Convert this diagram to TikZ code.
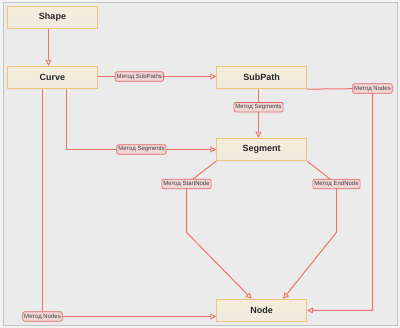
\documentclass[tikz,border=0pt]{standalone}
\usepackage{fontspec}
\setmainfont{Liberation Sans}
\usetikzlibrary{arrows.meta,calc}
\definecolor{outerbg}{HTML}{F2F2F2}
\definecolor{bg}{HTML}{EBEBEB}
\definecolor{framec}{HTML}{C4C4C4}
\definecolor{lineC}{HTML}{F07268}
\definecolor{boxB}{HTML}{F0C47A}
\definecolor{boxT}{HTML}{F6EDDC}
\definecolor{boxBot}{HTML}{EFE9E0}
\definecolor{lblF}{HTML}{F1D6D6}
\definecolor{lblD}{HTML}{E06666}
\begin{document}
\begin{tikzpicture}[x=1pt,y=-1pt,
 cls/.style={draw=boxB, line width=0.8pt, top color=boxT, bottom color=boxBot, minimum width=90pt, minimum height=22.5pt, inner sep=0pt, font=\fontsize{9}{10}\selectfont\bfseries, text=black!85},
 lbl/.style={draw=lblD, fill=lblF, rounded corners=2pt, line width=0.7pt, inner xsep=1.5pt, inner ysep=1pt, font=\fontsize{6}{6.5}\selectfont, text=black!75, minimum height=9.5pt},
 conn/.style={draw=lineC, line width=1pt},
 arr/.style={conn, -{Triangle[open, length=6pt, width=6pt, line width=0.9pt]}},
]
\useasboundingbox (0,0) rectangle (400,328);
\fill[outerbg] (0,0) rectangle (400,328);
\filldraw[fill=bg, draw=framec, line width=0.8pt] (3,2.5) rectangle (397,325.5);

\node[cls] (shape) at (52.5,17.5) {Shape};
\node[cls] (curve) at (52.5,77.5) {Curve};
\node[cls] (subpath) at (261.7,77.5) {SubPath};
\node[cls] (segment) at (261.7,149.5) {Segment};
\node[cls] (node) at (261.7,310.5) {Node};

\coordinate (c1) at (372.5,88.5);
\coordinate (s1) at (186.5,184);
\coordinate (s2) at (186.5,232.3);
\coordinate (e1) at (336.5,184);
\coordinate (e2) at (336.5,232.3);
\coordinate (n1) at (42.5,316.5);
\coordinate (k1) at ($(curve.south)+(14,0)$);
\coordinate (k2) at ($(curve.south)+(-10,0)$);

\draw[arr] ($(shape.south)+(-4,0)$) -- ($(curve.north)+(-4,0)$);
\draw[arr] ($(curve.east)+(0,-1)$) -- node[lbl, pos=0.35] {Метод SubPaths} ($(subpath.west)+(0,-1)$);
\draw[arr] (k1) |- node[lbl, pos=0.75] {Метод Segments} (segment.west);
\draw[arr] (k2) -- (n1) -- ($(node.west)+(0,6)$);
\node[lbl] at (n1) {Метод Nodes};
\draw[arr] ($(subpath.south)+(-3.2,0)$) -- node[lbl, pos=0.37] {Метод Segments} ($(segment.north)+(-3.2,0)$);
\draw[arr] (subpath.south east) -- (c1) |- (node.east);
\node[lbl] at (c1) {Метод Nodes};
\draw[arr] (segment.south west) -- (s1) -- (s2) -- ($(node.north)+(-10,0)$);
\node[lbl] at (s1) {Метод StartNode};
\draw[arr] (segment.south east) -- (e1) -- (e2) -- ($(node.north)+(21.3,0)$);
\node[lbl] at (e1) {Метод EndNode};
\end{tikzpicture}
\end{document}
